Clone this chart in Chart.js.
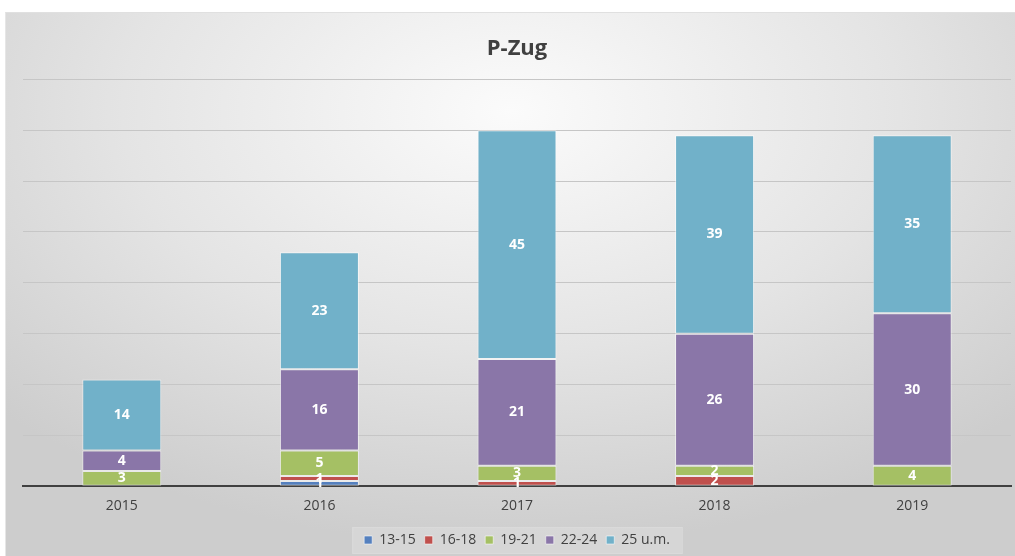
<!DOCTYPE html>
<html>
<head>
<meta charset="utf-8">
<script src="https://cdn.jsdelivr.net/npm/chart.js@4"></script>
<style>
  html, body { margin: 0; padding: 0; background: #fff; }
  #rahmen {
    position: absolute; left: 5px; top: 12px; width: 1010px; height: 544px;
    background: radial-gradient(ellipse 70% 80% at 50% 18%, #fbfbfb 0%, #e4e4e4 55%, #cdcdcd 100%);
    border-top: 1px solid #e0e0e0; border-left: 1px solid #e6e6e6;
  }
  canvas { display: block; }
</style>
</head>
<body>
<div id="rahmen"><canvas id="grafico" width="1010" height="544"></canvas></div>
<script>
// Jahre und Altersgruppen
const jahre = ['2015', '2016', '2017', '2018', '2019'];
const gruppen = ['13-15', '16-18', '19-21', '22-24', '25 u.m.'];

// Werte pro Altersgruppe
const werte1315 = [0, 1, 0, 0, 0];
const werte1618 = [0, 1, 1, 2, 0];
const werte1921 = [3, 5, 3, 2, 4];
const werte2224 = [4, 16, 21, 26, 30];
const werte25 = [14, 23, 45, 39, 35];

const farben = ['#5580be', '#c0504d', '#a5c064', '#8a76a8', '#71b1c9'];

const reihen = [werte1315, werte1618, werte1921, werte2224, werte25];

// Werte in die Mitte der Segmente schreiben
const etikettenPlugin = {
  id: 'etiketten',
  afterDatasetsDraw(chart) {
    const ctx = chart.ctx;
    ctx.save();
    ctx.font = 'bold 14px "Open Sans", sans-serif';
    ctx.fillStyle = '#ffffff';
    ctx.textAlign = 'center';
    ctx.textBaseline = 'middle';
    chart.data.datasets.forEach((ds, i) => {
      const meta = chart.getDatasetMeta(i);
      meta.data.forEach((bar, j) => {
        const v = ds.data[j];
        if (!v) return;
        ctx.fillText(String(v), bar.x, (bar.y + bar.base) / 2);
      });
    });
    ctx.restore();
  },
};

// Rahmen um die Legende
const legendenRahmen = {
  id: 'legendenRahmen',
  beforeDraw(chart) {
    const boxes = chart.legend && chart.legend.legendHitBoxes;
    if (!boxes || !boxes.length) return;
    const l = Math.min(...boxes.map((b) => b.left)) - 12;
    const r = Math.max(...boxes.map((b) => b.left + b.width)) + 12;
    const t = Math.min(...boxes.map((b) => b.top)) - 6;
    const btm = Math.max(...boxes.map((b) => b.top + b.height)) + 6;
    const ctx = chart.ctx;
    ctx.save();
    ctx.fillStyle = 'rgba(255,255,255,0.18)';
    ctx.strokeStyle = '#dadada';
    ctx.lineWidth = 1;
    ctx.fillRect(l, t, r - l, btm - t);
    ctx.strokeRect(l + 0.5, t + 0.5, r - l, btm - t);
    ctx.restore();
  },
};

new Chart(document.getElementById('grafico'), {
  type: 'bar',
  data: {
    labels: jahre,
    datasets: gruppen.map((g, i) => ({
      label: g,
      data: reihen[i],
      backgroundColor: farben[i],
      borderColor: 'rgba(255,255,255,0.55)',
      borderWidth: 1,
      borderSkipped: false,
      categoryPercentage: 1,
      barPercentage: 0.4,
    })),
  },
  options: {
    responsive: false,
    animation: false,
    layout: { padding: { left: 17, right: 5, top: 0, bottom: 0 } },
    plugins: {
      title: {
        display: true,
        text: 'P-Zug',
        color: '#404040',
        font: { size: 22, weight: 'bold', family: '"Open Sans", sans-serif' },
        padding: { top: 23, bottom: 17 },
      },
      legend: {
        position: 'bottom',
        labels: {
          color: '#404040',
          boxWidth: 8,
          boxHeight: 8,
          padding: 9,
          font: { size: 14, family: '"Open Sans", sans-serif' },
        },
      },
      tooltip: { enabled: false },
    },
    scales: {
      x: {
        stacked: true,
        grid: { display: false },
        border: { color: '#404040', width: 2 },
        ticks: {
          color: '#404040',
          padding: 3,
          font: { size: 14, family: '"Open Sans", sans-serif' },
        },
        afterFit: (scale) => { scale.height += 7; },
      },
      y: {
        stacked: true,
        min: 0,
        max: 80,
        ticks: { display: false, stepSize: 10 },
        grid: { color: '#c6c6c6', drawTicks: false },
        border: { display: false },
      },
    },
  },
  plugins: [etikettenPlugin, legendenRahmen],
});
</script>
</body>
</html>
